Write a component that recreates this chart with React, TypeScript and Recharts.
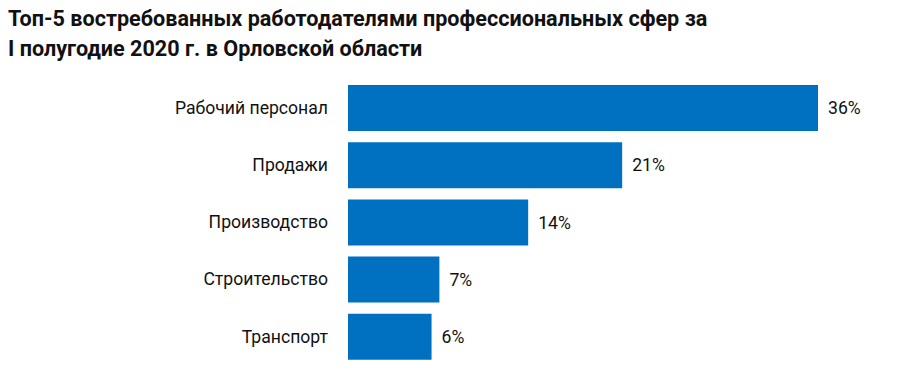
import { BarChart, Bar, XAxis, YAxis, LabelList } from 'recharts';

const categories = ['Рабочий персонал', 'Продажи', 'Производство', 'Строительство', 'Транспорт'];
const shares = [36, 21, 13.8, 7, 6.4];

const data = categories.map((name, i) => ({ name, value: shares[i] }));

const FONT = 'Roboto, "Noto Sans", sans-serif';

export default function App() {
  return (
    <div style={{ position: 'absolute', left: 0, top: 0, width: 900, height: 388, background: '#fff', fontFamily: FONT }}>
      <div
        style={{
          position: 'absolute',
          left: 8,
          top: 4,
          fontSize: 21.6,
          fontWeight: 700,
          lineHeight: '30px',
          color: '#111',
          whiteSpace: 'nowrap',
        }}
      >
        Топ-5 востребованных работодателями профессиональных сфер за
        <br />
        I полугодие 2020 г. в Орловской области
      </div>
      <BarChart
        width={900}
        height={388}
        data={data}
        layout="vertical"
        margin={{ top: 79, right: 82, bottom: 23, left: 0 }}
        barSize={46}
      >
        <XAxis type="number" domain={[0, 36]} hide />
        <YAxis
          type="category"
          dataKey="name"
          width={348}
          axisLine={false}
          tickLine={false}
          tickMargin={14}
          tick={{ fill: '#111', fontSize: 17.6, fontFamily: FONT }}
        />
        <Bar dataKey="value" fill="#0070c0" isAnimationActive={false}>
          <LabelList
            dataKey="value"
            position="right"
            offset={10}
            formatter={(v: number) => `${Math.round(v)}%`}
            style={{ fill: '#111', fontSize: 17.6, fontFamily: FONT }}
          />
        </Bar>
      </BarChart>
    </div>
  );
}
